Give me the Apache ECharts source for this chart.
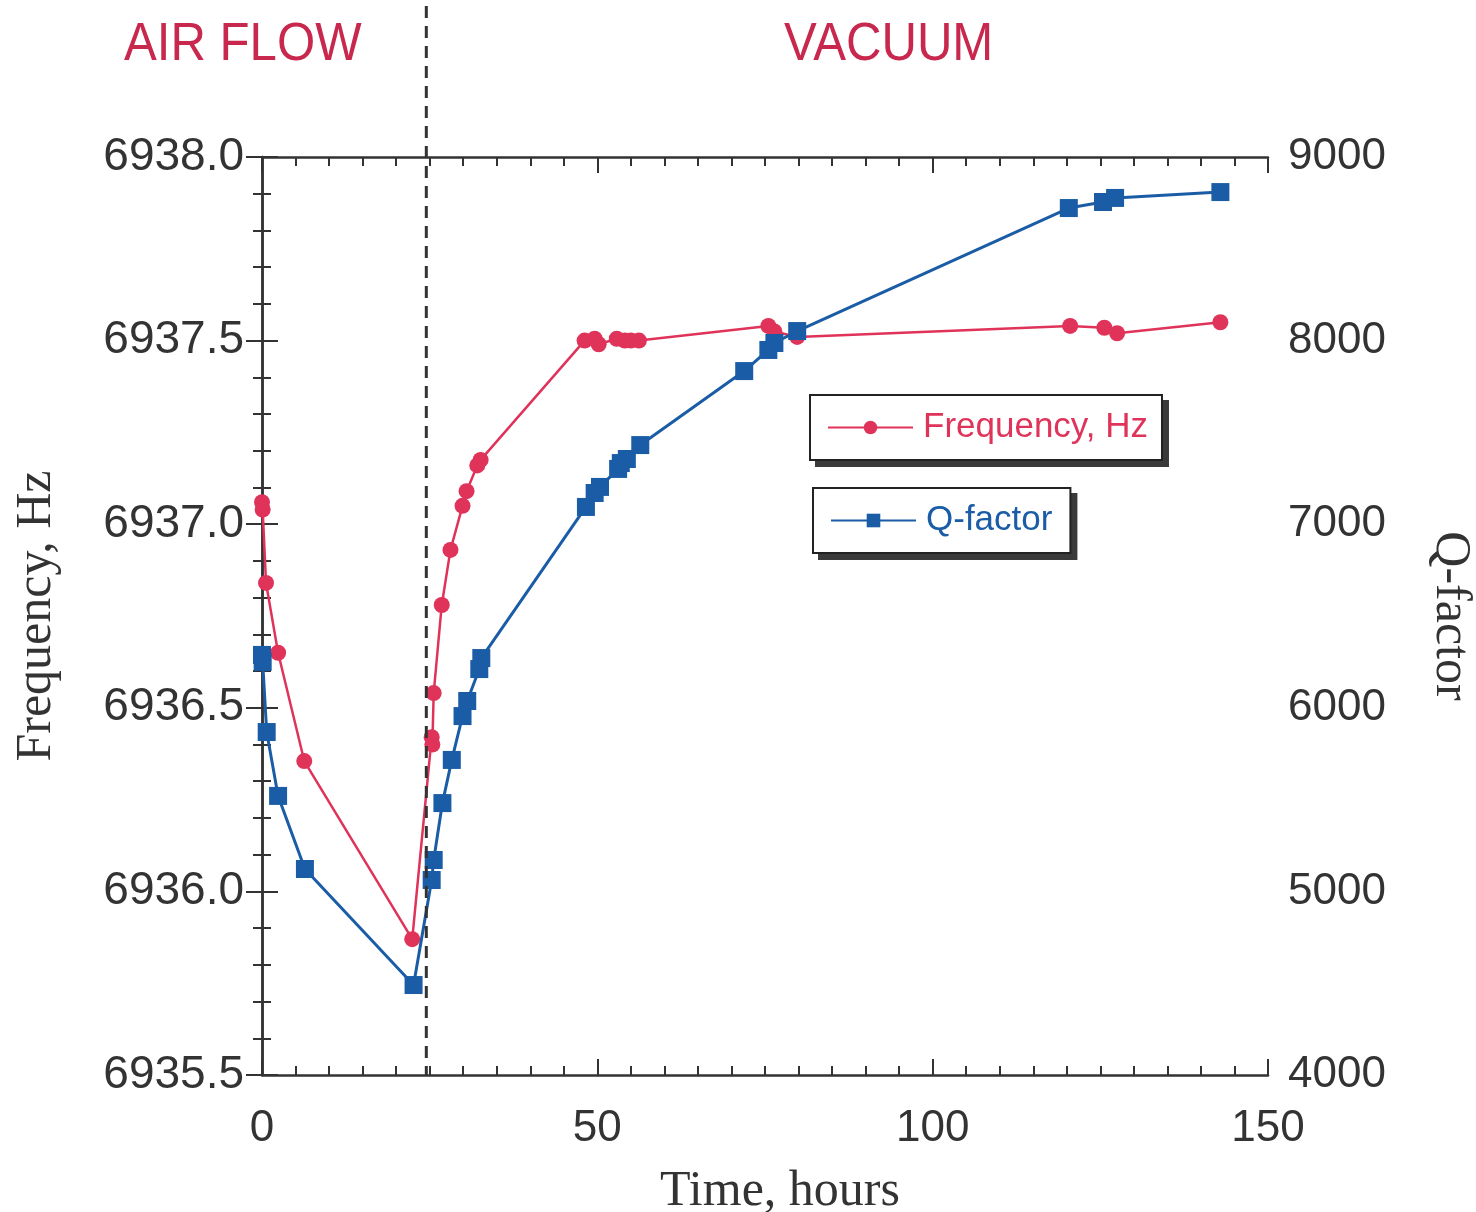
<!DOCTYPE html>
<html>
<head>
<meta charset="utf-8">
<script src="https://cdn.jsdelivr.net/npm/echarts@6/dist/echarts.min.js"></script>
<style>
  html, body { margin: 0; padding: 0; background: #fff; }
  #chart { width: 1476px; height: 1212px; }
</style>
</head>
<body>
<div id="chart"></div>
<script>
// time (hours) for each measurement
const freqTime = [0, 0.1, 0.6, 2.4, 6.3, 22.4, 25.3, 25.4, 25.6, 26.8, 28.1, 29.9, 30.5, 32.1, 32.6,
  48.1, 49.6, 50.2, 52.9, 54.1, 55.0, 56.2, 75.5, 76.4, 79.8, 120.5, 125.6, 127.5, 142.9];
const freqHz = [6937.06, 6937.04, 6936.84, 6936.65, 6936.355, 6935.87, 6936.42, 6936.40, 6936.54, 6936.78,
  6936.93, 6937.05, 6937.09, 6937.16, 6937.175, 6937.50, 6937.505, 6937.49, 6937.505, 6937.50, 6937.50,
  6937.50, 6937.54, 6937.525, 6937.51, 6937.54, 6937.535, 6937.52, 6937.55];

const qTime = [0, 0.1, 0.7, 2.4, 6.4, 22.6, 25.3, 25.6, 26.9, 28.3, 29.9, 30.6, 32.4, 32.7,
  48.3, 49.6, 50.4, 53.1, 53.5, 54.4, 56.4, 71.9, 75.5, 76.4, 79.8, 120.3, 125.4, 127.2, 142.9];
const qFactor = [6288, 6250, 5868, 5520, 5122, 4490, 5062, 5171, 5481, 5716, 5955, 6037, 6211, 6271,
  7094, 7170, 7203, 7301, 7333, 7355, 7431, 7834, 7949, 7987, 8052, 8722, 8755, 8777, 8809];

const switchTime = 24.5; // air flow -> vacuum
const redLine = '#e0335a';
const blueLine = '#1a5da6';
const labelRed = '#c8284e';
const ink = '#333';

const chart = echarts.init(document.getElementById('chart'));

const sans = '"Liberation Sans", Arial, sans-serif';
const serif = '"Liberation Serif", "Times New Roman", serif';
const tickFont = { fontFamily: sans, fontSize: 44, color: ink };
const nameFont = { fontFamily: serif, fontSize: 50, color: ink };

// ticks point into the plot: negative length flips them inward
const axisStyle = { show: true, lineStyle: { color: ink, width: 2.5 } };
const majorTick = { inside: false, length: -16, lineStyle: { color: ink, width: 2 } };
const minorTick = n => ({ show: true, splitNumber: n, length: -9, lineStyle: { color: ink, width: 2 } });

const legendBox = {
  orient: 'vertical',
  z: 5,
  backgroundColor: '#fff',
  borderColor: '#222',
  borderWidth: 2,
  itemWidth: 85,
  itemHeight: 17,
  itemGap: 0,
  textStyle: { fontFamily: sans, fontSize: 35, padding: [0, 0, 0, 5] }
};

chart.setOption({
  animation: false,
  backgroundColor: '#fff',
  grid: { left: 262, right: 208, top: 157, bottom: 137, containLabel: false, outerBoundsMode: 'none' },
  legend: [
    Object.assign({}, legendBox, {
      left: 810, top: 395, padding: [15, 14, 15, 17],
      data: [{ name: 'Frequency, Hz', textStyle: { color: redLine } }]
    }),
    Object.assign({}, legendBox, {
      left: 813, top: 488, padding: [15, 18, 15, 17],
      data: [{ name: 'Q-factor', textStyle: { color: blueLine } }]
    })
  ],
  xAxis: [
    {
      type: 'value', min: 0, max: 150, interval: 50,
      name: 'Time, hours', nameLocation: 'middle', nameGap: 92,
      nameTextStyle: Object.assign({ padding: [0, 0, 0, 30] }, nameFont),
      axisLine: axisStyle, axisTick: majorTick, minorTick: minorTick(10),
      axisLabel: Object.assign({ margin: 32 }, tickFont),
      splitLine: { show: false }
    },
    {
      type: 'value', min: 0, max: 150, interval: 50, position: 'top',
      axisLine: axisStyle, axisTick: majorTick, minorTick: minorTick(10),
      axisLabel: { show: false },
      splitLine: { show: false }
    }
  ],
  yAxis: [
    {
      type: 'value', min: 6935.5, max: 6938.0, interval: 0.5,
      name: 'Frequency, Hz', nameLocation: 'middle', nameRotate: 90, nameGap: 200, nameTextStyle: nameFont,
      axisLine: axisStyle, axisTick: majorTick, minorTick: minorTick(5),
      axisLabel: Object.assign({}, tickFont, { fontSize: 46, margin: 18, formatter: v => v.toFixed(1) }),
      splitLine: { show: false }
    },
    {
      type: 'value', min: 4000, max: 9000, interval: 1000, position: 'right',
      name: 'Q-factor', nameLocation: 'middle', nameRotate: -90, nameGap: 157, nameTextStyle: nameFont,
      axisLine: axisStyle, axisTick: majorTick, minorTick: minorTick(5),
      axisLabel: Object.assign({ margin: 20, formatter: v => String(v) }, tickFont),
      splitLine: { show: false }
    }
  ],
  series: [
    {
      name: 'Frequency, Hz', type: 'line', yAxisIndex: 0,
      data: freqTime.map((t, i) => [t, freqHz[i]]),
      symbol: 'circle', symbolSize: 16,
      lineStyle: { color: redLine, width: 2.5 },
      itemStyle: { color: redLine },
      z: 3
    },
    {
      name: 'Q-factor', type: 'line', yAxisIndex: 1,
      data: qTime.map((t, i) => [t, qFactor[i]]),
      symbol: 'rect', symbolSize: 18,
      lineStyle: { color: blueLine, width: 3 },
      itemStyle: { color: blueLine },
      z: 4
    }
  ]
});

// dashed separator between the two regimes, running above the plot up to the header
const xSwitch = chart.convertToPixel({ xAxisIndex: 0 }, switchTime);
const yBottom = chart.convertToPixel({ yAxisIndex: 0 }, 6935.5);

// drop shadows behind the two legend boxes
const legendShadows = [0, 1].map(i => {
  const view = chart.getViewOfComponentModel(chart.getModel().getComponent('legend', i));
  const r = view.group.getBoundingRect();
  return {
    type: 'rect', z: 1,
    shape: { x: view.group.x + r.x + 6, y: view.group.y + r.y + 6, width: r.width, height: r.height },
    style: { fill: '#3a3a3a' }
  };
});

chart.setOption({
  graphic: legendShadows.concat([
    {
      type: 'line', z: 10,
      shape: { x1: xSwitch, y1: 6, x2: xSwitch, y2: yBottom },
      style: { stroke: ink, lineWidth: 3, lineDash: [12, 8] }
    },
    {
      type: 'text', x: 124, y: 18, scaleX: 0.91,
      style: { text: 'AIR FLOW', fill: labelRed, font: '54px ' + sans }
    },
    {
      type: 'text', x: 784, y: 18, scaleX: 0.91,
      style: { text: 'VACUUM', fill: labelRed, font: '54px ' + sans }
    }
  ])
});
</script>
</body>
</html>
